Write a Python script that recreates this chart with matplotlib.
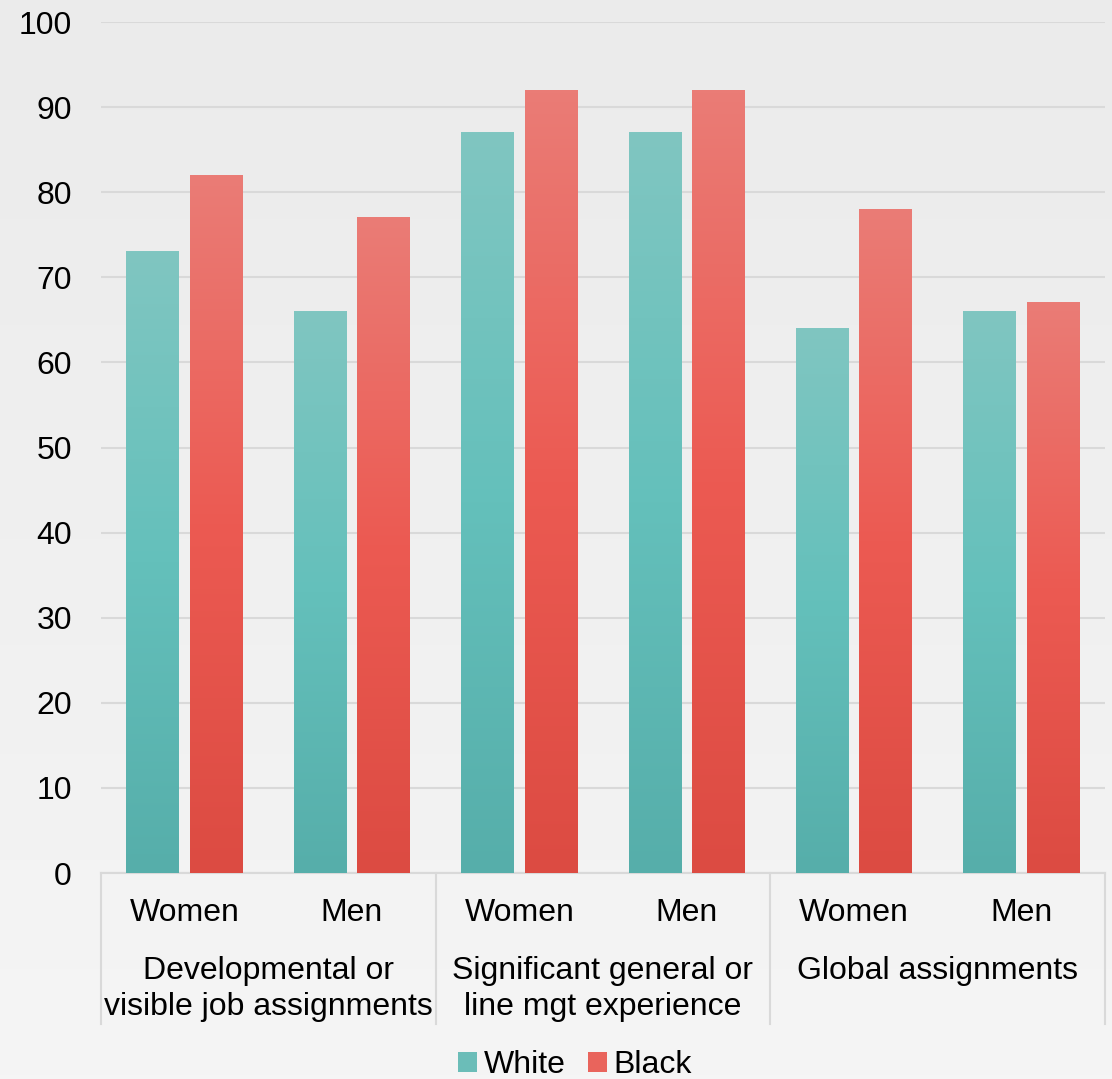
import numpy as np
import matplotlib.pyplot as plt
from matplotlib.colors import LinearSegmentedColormap
from matplotlib.patches import Patch
from matplotlib.lines import Line2D
import matplotlib.transforms as mtransforms

plt.rcParams['font.family'] = ['Liberation Sans', 'DejaVu Sans']

sub_labels = ["Women", "Men", "Women", "Men", "Women", "Men"]
group_labels = ["Developmental or\nvisible job assignments",
                "Significant general or\nline mgt experience",
                "Global assignments"]
white = [73, 66, 87, 87, 64, 66]
black = [82, 77, 92, 92, 78, 67]

teal_cmap = LinearSegmentedColormap.from_list("teal", ["#56aeaa", "#64c0bb", "#80c6c1"])
red_cmap = LinearSegmentedColormap.from_list("red", ["#dc4b42", "#ec5a52", "#ea7c76"])

fs = 23

fig = plt.figure(figsize=(11.12, 10.79), dpi=100)

# soft grey backdrop, a touch darker at the top
bg = fig.add_axes([0, 0, 1, 1], zorder=-10)
bg.imshow(np.linspace(0, 1, 256).reshape(-1, 1),
          cmap=LinearSegmentedColormap.from_list("bg", ["#ebebeb", "#f5f5f5"]),
          aspect='auto', extent=[0, 1, 0, 1], origin='upper')
bg.axis('off')

ax = fig.add_axes([0.0908, 0.1909, 0.9029, 0.7887])
ax.patch.set_alpha(0)

x = np.arange(len(sub_labels))
w = 0.315
off = 0.19
grad = np.linspace(0, 1, 256).reshape(-1, 1)


def gradient_bars(xs, vals, cmap):
    for xi, v in zip(xs, vals):
        ax.imshow(grad, cmap=cmap, aspect='auto', origin='lower',
                  extent=[xi - w / 2, xi + w / 2, 0, v], zorder=3)


gradient_bars(x - off, white, teal_cmap)
gradient_bars(x + off, black, red_cmap)

ax.set_xlim(-0.5, len(sub_labels) - 0.5)
ax.set_ylim(0, 100)
ax.set_yticks(range(0, 101, 10))
ax.yaxis.grid(True, color="#d9d9d9", linewidth=1.5, zorder=0)
ax.set_axisbelow(True)
for s in ["top", "right", "left"]:
    ax.spines[s].set_visible(False)
ax.spines["bottom"].set_color("#d9d9d9")
ax.spines["bottom"].set_linewidth(1.5)
ax.tick_params(axis='y', length=0, pad=21, labelsize=fs)
ax.set_xticks([])

trans = mtransforms.blended_transform_factory(ax.transData, ax.transAxes)
for xi, lab in zip(x, sub_labels):
    ax.text(xi, -0.0475, lab, transform=trans, ha='center', va='center', fontsize=fs)
for gi, lab in enumerate(group_labels):
    ax.text(2 * gi + 0.5, -0.098, lab, transform=trans, ha='center', va='top',
            fontsize=fs, linespacing=1.25)
for sx in [-0.5, 1.5, 3.5, 5.5]:
    ax.add_line(Line2D([sx, sx], [0, -0.1774], transform=trans, color="#d9d9d9",
                       linewidth=1.5, clip_on=False))

handles = [Patch(facecolor="#6bbdb8", label="White"),
           Patch(facecolor="#e9645c", label="Black")]
fig.legend(handles=handles, loc='center', bbox_to_anchor=(0.517, 0.013), ncol=2,
           frameon=False, fontsize=fs, handlelength=0.6, handleheight=0.6,
           handletextpad=0.2, columnspacing=0.7)

fig.savefig("out.png", dpi=100)
